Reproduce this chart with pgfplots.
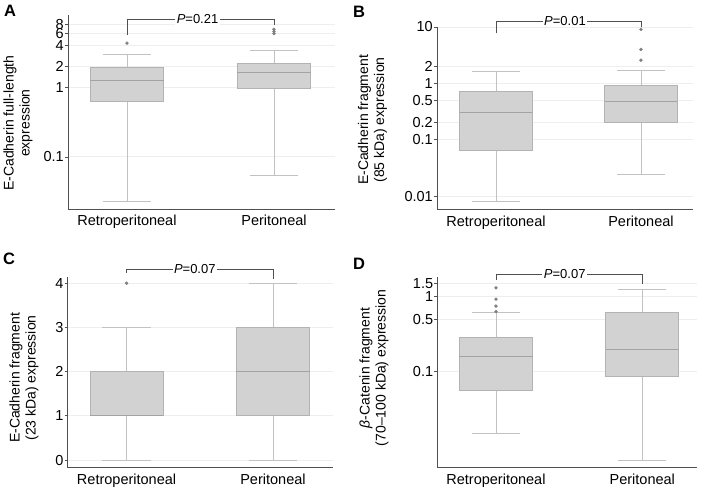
\documentclass[border=0pt]{standalone}
\usepackage{fontspec}
\setmainfont{Liberation Sans}
\usepackage{pgfplots}
\pgfplotsset{compat=1.18}
\usepgfplotslibrary{statistics}
\definecolor{boxfill}{HTML}{D2D2D2}
\definecolor{boxline}{HTML}{B3B3B3}
\definecolor{medline}{HTML}{A3A3A3}
\definecolor{whisk}{HTML}{C2C2C2}
\definecolor{outl}{HTML}{808080}
\definecolor{spine}{HTML}{505050}
\definecolor{gridc}{HTML}{EEEEEE}
\pgfplotsset{
  panel/.style={
    scale only axis,
    axis lines*=left,
    axis line style={spine, line width=1pt, -},
    xtick={1,2}, xticklabels={Retroperitoneal,Peritoneal},
    xtick style={draw=none},
    ytick style={spine, line width=0.8pt},
    major tick length=3pt, tick align=outside,
    ymajorgrids, major grid style={gridc, line width=0.9pt},
    /pgf/number format/assume math mode=true,
    tick label style={font=\fontsize{14.5}{16}\selectfont},
    yticklabel style={inner sep=1pt},
    xticklabel style={inner sep=2pt, yshift=-1pt},
    ylabel style={font=\fontsize{14}{16}\selectfont, align=center, rotate=0},
    clip=false,
    boxplot/draw direction=y,
    boxplot/box extend=0.5,
    boxplot/whisker extend=0.33,
    boxplot/every box/.style={draw=boxline, fill=boxfill, line width=0.8pt},
    boxplot/every whisker/.style={draw=whisk, line width=0.9pt},
    boxplot/every median/.style={draw=medline, line width=0.9pt},
  },
  bx/.style={draw=whisk, mark=*, mark size=1.5pt, mark options={draw=outl, fill=outl}},
}
\tikzset{
  brk/.style={spine, line width=0.8pt},
  pval/.style={fill=white, inner sep=1.5pt, font=\fontsize{13}{15}\selectfont},
}
\begin{document}
\begin{tikzpicture}[x=1pt,y=1pt]
\useasboundingbox (0,0) rectangle (703,-492);

% ---------- A ----------
\begin{axis}[panel, at={(68pt,-209pt)}, anchor=south west,
  width=267pt, height=194pt,
  xmin=0.599, xmax=2.415,
  ymode=log, ymin=0.0179, ymax=10.9,
  ytick={0.1,1,2,4,6,8}, yticklabels={0.1,1,2,4,6,8},
  ylabel={E-Cadherin full-length\\expression},
  ylabel style={at={(axis description cs:-0.187,0.443)}, anchor=center, rotate=0}]
\addplot[bx, boxplot prepared={draw position=1, lower whisker=0.023, lower quartile=0.636,
  median=1.26, upper quartile=1.91, upper whisker=3.0}] coordinates {(0,4.3)};
\addplot[bx, boxplot prepared={draw position=2, lower whisker=0.055, lower quartile=0.95,
  median=1.64, upper quartile=2.21, upper whisker=3.43}] coordinates {(0,5.9) (0,6.3) (0,6.8)};
\draw[brk] (axis cs:1,5.63) |- (axis cs:2,9.46) -- (axis cs:2,7.83);
\node[pval] at (axis cs:1.48,9.46) {\textit{P}=0.21};
\end{axis}

% ---------- B ----------
\begin{axis}[panel, at={(437pt,-209.3pt)}, anchor=south west,
  width=256pt, height=182.3pt,
  xmin=0.593, xmax=2.359,
  ymode=log, ymin=0.00589, ymax=10.0,
  ytick={0.01,0.1,0.2,0.5,1,2,10}, yticklabels={0.01,0.1,0.2,0.5,1,2,10},
  ylabel={E-Cadherin fragment\\(85 kDa) expression},
  ylabel style={at={(axis description cs:-0.252,0.49)}, anchor=center}]
\addplot[bx, boxplot prepared={draw position=1, lower whisker=0.008, lower quartile=0.064,
  median=0.307, upper quartile=0.71, upper whisker=1.6}] coordinates {};
\addplot[bx, boxplot prepared={draw position=2, lower whisker=0.0245, lower quartile=0.204,
  median=0.472, upper quartile=0.907, upper whisker=1.70}] coordinates {(0,2.58) (0,4.0) (0,9.1)};
\draw[brk] (axis cs:1,7.7) |- (axis cs:2,12.8) -- (axis cs:2,9.8);
\node[pval] at (axis cs:1.476,12.8) {\textit{P}=0.01};
\end{axis}

% ---------- C ----------
\begin{axis}[panel, at={(67.7pt,-467.7pt)}, anchor=south west,
  width=265.3pt, height=191pt,
  xmin=0.598, xmax=2.41,
  ymin=-0.174, ymax=4.147,
  ytick={0,1,2,3,4}, yticklabels={0,1,2,3,4},
  ylabel={E-Cadherin fragment\\(23 kDa) expression},
  ylabel style={at={(axis description cs:-0.165,0.47)}, anchor=center}]
\addplot[bx, boxplot prepared={draw position=1, lower whisker=0, lower quartile=1,
  median=1, upper quartile=2, upper whisker=3}] coordinates {(0,4)};
\addplot[bx, boxplot prepared={draw position=2, lower whisker=0, lower quartile=1,
  median=2, upper quartile=3, upper whisker=4}] coordinates {};
\draw[brk] (axis cs:1,4.22) |- (axis cs:2,4.32) -- (axis cs:2,4.09);
\node[pval] at (axis cs:1.466,4.32) {\textit{P}=0.07};
\end{axis}

% ---------- D ----------
\begin{axis}[panel, at={(437.3pt,-467.7pt)}, anchor=south west,
  width=259.7pt, height=191pt,
  xmin=0.599, xmax=2.374,
  ymode=log, ymin=0.0050, ymax=1.862,
  ytick={0.1,0.5,1,1.5}, yticklabels={0.1,0.5,1,1.5},
  ylabel={\textit{β}-Catenin fragment\\(70–100 kDa) expression},
  ylabel style={at={(axis description cs:-0.244,0.522)}, anchor=center}]
\addplot[bx, boxplot prepared={draw position=1, lower whisker=0.0145, lower quartile=0.0555,
  median=0.156, upper quartile=0.28, upper whisker=0.617}] coordinates {(0,0.63) (0,0.75) (0,0.93) (0,1.32)};
\addplot[bx, boxplot prepared={draw position=2, lower whisker=0.0063, lower quartile=0.0857,
  median=0.198, upper quartile=0.617, upper whisker=1.26}] coordinates {};
\draw[brk] (axis cs:1,1.68) |- (axis cs:2,2.02) -- (axis cs:2,1.47);
\node[pval] at (axis cs:1.47,2.02) {\textit{P}=0.07};
\end{axis}

\node[anchor=north west, inner sep=0, font=\bfseries\fontsize{16.5}{17}\selectfont] at (4,-5) {A};
\node[anchor=north west, inner sep=0, font=\bfseries\fontsize{16.5}{17}\selectfont] at (353,-6) {B};
\node[anchor=north west, inner sep=0, font=\bfseries\fontsize{16.5}{17}\selectfont] at (3,-253) {C};
\node[anchor=north west, inner sep=0, font=\bfseries\fontsize{16.5}{17}\selectfont] at (353,-258) {D};
\end{tikzpicture}
\end{document}
